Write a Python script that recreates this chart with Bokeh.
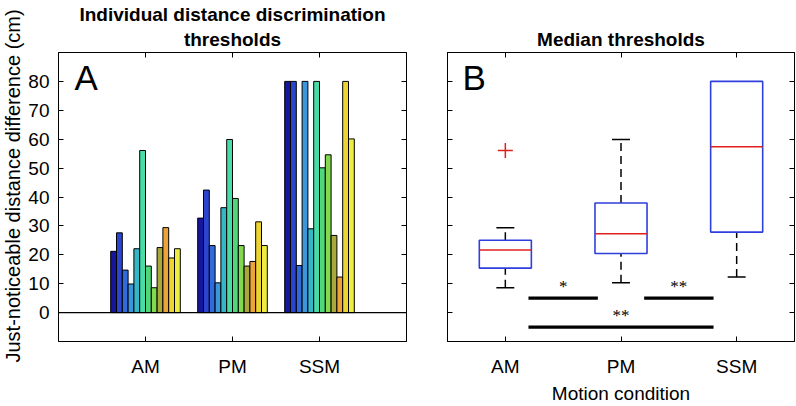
import math
from bokeh.plotting import figure
from bokeh.models import (Range1d, FixedTicker, LinearAxis, Label, Span, Title,
                          CustomJSTickFormatter, ColumnDataSource)
from bokeh.layouts import row
from bokeh.embed import file_html
from bokeh.resources import INLINE

# ---------------- data ----------------
conditions = ["AM", "PM", "SSM"]
condition_pos = [1, 2, 3]
am_thresholds = [21.2, 27.6, 14.7, 9.9, 22.1, 56.1, 16.1, 8.6, 22.5, 29.4, 18.9, 22.1]
pm_thresholds = [32.7, 42.4, 23.2, 10.3, 36.3, 59.9, 39.5, 23.2, 16.1, 17.7, 31.4, 23.2]
ssm_thresholds = [80.0, 80.0, 16.3, 80.0, 29.0, 80.0, 50.1, 54.6, 26.7, 12.3, 80.0, 60.1]
y_ticks = [0, 10, 20, 30, 40, 50, 60, 70, 80]
subject_colors = ["#16169c", "#2b45cf", "#2f6bdb", "#3c96dc", "#35b7c8", "#48dca6",
                  "#52d67a", "#82d94f", "#a9a83a", "#eca33a", "#eed432", "#ecec42"]
sig_start = [1, 2, 1]
sig_end = [2, 3, 3]
sig_level = [5, 5, -5]
sig_text = ["*", "**", "**"]

FONT = "Liberation Sans"
all_data = [am_thresholds, pm_thresholds, ssm_thresholds]
n_sub = len(am_thresholds)
group_w = 0.8
bar_w = group_w / n_sub


def style_axes(p, xticks, xlabels):
    overrides = {t: l for t, l in zip(xticks, xlabels)}
    for ax in p.xaxis:
        ax.ticker = FixedTicker(ticks=xticks)
        ax.major_label_overrides = overrides
    for ax in p.yaxis:
        ax.ticker = FixedTicker(ticks=y_ticks)
    for ax in list(p.xaxis) + list(p.yaxis):
        ax.major_tick_in = 5
        ax.major_tick_out = 0
        ax.minor_tick_line_color = None
        ax.axis_line_color = "black"
        ax.major_tick_line_color = "black"
        ax.major_label_text_font = FONT
        ax.major_label_text_font_size = "19px"
        ax.major_label_text_color = "black"


def box_axis(ticks):
    return LinearAxis(ticker=FixedTicker(ticks=ticks),
                      formatter=CustomJSTickFormatter(code="return ''"),
                      major_label_text_font_size="0px",
                      major_tick_in=5, major_tick_out=0, major_label_standoff=0,
                      minor_tick_line_color=None, axis_line_color="black")


def title(text, standoff, size="19px", bold=True, align="center", offset=0, valign="bottom"):
    return Title(text=text, align=align, offset=offset, standoff=standoff,
                 vertical_align=valign,
                 text_font=FONT, text_font_size=size,
                 text_font_style="bold" if bold else "normal", text_color="black")


# ---------------- panel A ----------------
pA = figure(width=426, height=406, x_range=Range1d(0, 4), y_range=Range1d(-10, 90),
            output_backend="svg", toolbar_location=None, title_location=None,
            min_border_left=58, min_border_right=20, min_border_top=52, min_border_bottom=65)
pA.grid.visible = False
pA.outline_line_color = "black"

xs, tops, cols = [], [], []
for gpos, vals in zip(condition_pos, all_data):
    for i, v in enumerate(vals):
        xs.append(gpos + (i - (n_sub - 1) / 2) * bar_w)
        tops.append(v)
        cols.append(subject_colors[i])
pA.vbar(x="x", top="top", bottom=0, width=bar_w, fill_color="color",
        line_color="black", line_width=1,
        source=ColumnDataSource(dict(x=xs, top=tops, color=cols)))
pA.add_layout(Span(location=0, dimension="width", line_color="black", line_width=1.2))

style_axes(pA, condition_pos, conditions)
pA.xaxis.major_label_standoff = 14
pA.yaxis.major_label_standoff = 9
pA.add_layout(box_axis(condition_pos), "above")
pA.add_layout(box_axis(y_ticks), "right")
pA.add_layout(title("thresholds", 5), "above")
pA.add_layout(title("Individual distance discrimination", 0), "above")
pA.add_layout(title("Just-noticeable distance difference (cm)", 0, size="20px", bold=False,
                    align="left", offset=-21, valign="top"), "left")

pA.add_layout(Label(x=16, y=264, x_units="screen", y_units="screen", text="A",
                    text_baseline="alphabetic", text_font=FONT, text_font_size="35px",
                    text_color="black"))

# ---------------- panel B ----------------
pB = figure(width=370, height=406, x_range=Range1d(0.5, 3.5), y_range=Range1d(-10, 90),
            output_backend="svg", toolbar_location=None, title_location=None,
            min_border_left=21, min_border_right=2, min_border_top=52, min_border_bottom=65)
pB.grid.visible = False
pB.outline_line_color = "black"


def prctile(vals, p):
    s = sorted(vals)
    n = len(s)
    pos = n * p / 100 + 0.5
    if pos <= 1:
        return s[0]
    if pos >= n:
        return s[-1]
    k = int(math.floor(pos))
    return s[k - 1] + (pos - k) * (s[k] - s[k - 1])


box_w = 0.45
cap_w = 0.155
bx, q1s, q3s, meds, lows, highs, ox, oy = [], [], [], [], [], [], [], []
cap_x, cap_y = [], []
for gpos, vals in zip(condition_pos, all_data):
    q1, med, q3 = prctile(vals, 25), prctile(vals, 50), prctile(vals, 75)
    iqr = q3 - q1
    lo_lim, hi_lim = q1 - 1.5 * iqr, q3 + 1.5 * iqr
    inside = [v for v in vals if lo_lim <= v <= hi_lim]
    lo, hi = min(inside), max(inside)
    bx.append(gpos); q1s.append(q1); q3s.append(q3); meds.append(med)
    lows.append(lo); highs.append(hi)
    if hi > q3:
        cap_x.append(gpos); cap_y.append(hi)
    if lo < q1:
        cap_x.append(gpos); cap_y.append(lo)
    for v in vals:
        if v < lo_lim or v > hi_lim:
            ox.append(gpos); oy.append(v)

src = ColumnDataSource(dict(x=bx, q1=q1s, q3=q3s, med=meds, lo=lows, hi=highs,
                            left=[x - box_w / 2 for x in bx], right=[x + box_w / 2 for x in bx]))
pB.segment(x0="x", y0="q3", x1="x", y1="hi", line_color="black", line_width=1.5,
           line_dash="8 5", source=src)
pB.segment(x0="x", y0="lo", x1="x", y1="q1", line_color="black", line_width=1.5,
           line_dash="8 5", source=src)
pB.segment(x0=[x - cap_w / 2 for x in cap_x], y0=cap_y, x1=[x + cap_w / 2 for x in cap_x],
           y1=cap_y, line_color="black", line_width=1.5)
pB.quad(left="left", right="right", bottom="q1", top="q3", fill_color=None,
        line_color="#2f3fdc", line_width=1.6, source=src)
pB.segment(x0="left", y0="med", x1="right", y1="med", line_color="#e0201c", line_width=1.5,
           source=src)
pB.scatter(x=ox, y=oy, marker="cross", size=15, line_color="#e0201c", line_width=1.5)

# significance bars
sig_src = ColumnDataSource(dict(
    x0=[a + 0.2 for a in sig_start], x1=[b - 0.2 for b in sig_end], y=sig_level,
    tx=[(a + b) / 2 for a, b in zip(sig_start, sig_end)],
    ty=[l + 4.0 for l in sig_level], t=sig_text))
pB.segment(x0="x0", y0="y", x1="x1", y1="y", line_color="black", line_width=3.2, source=sig_src)
pB.text(x="tx", y="ty", text="t", text_align="center", text_baseline="alphabetic",
        text_font=FONT, text_font_size="17px", text_color="black", source=sig_src)

style_axes(pB, condition_pos, conditions)
pB.xaxis.major_label_standoff = 14
pB.yaxis.formatter = CustomJSTickFormatter(code="return ''")
pB.yaxis.major_label_text_font_size = "0px"
pB.yaxis.major_label_standoff = 0
pB.xaxis.axis_label = "Motion condition"
pB.xaxis.axis_label_text_font = FONT
pB.xaxis.axis_label_text_font_size = "19px"
pB.xaxis.axis_label_text_font_style = "normal"
pB.xaxis.axis_label_text_color = "black"
pB.xaxis.axis_label_standoff = 3
pB.add_layout(box_axis(condition_pos), "above")
pB.add_layout(box_axis(y_ticks), "right")
pB.add_layout(title("Median thresholds", 5), "above")

pB.add_layout(Label(x=15, y=264, x_units="screen", y_units="screen", text="B",
                    text_baseline="alphabetic", text_font=FONT, text_font_size="35px",
                    text_color="black"))

layout = row(pA, pB)
open("out.html", "w").write(file_html(layout, INLINE))
